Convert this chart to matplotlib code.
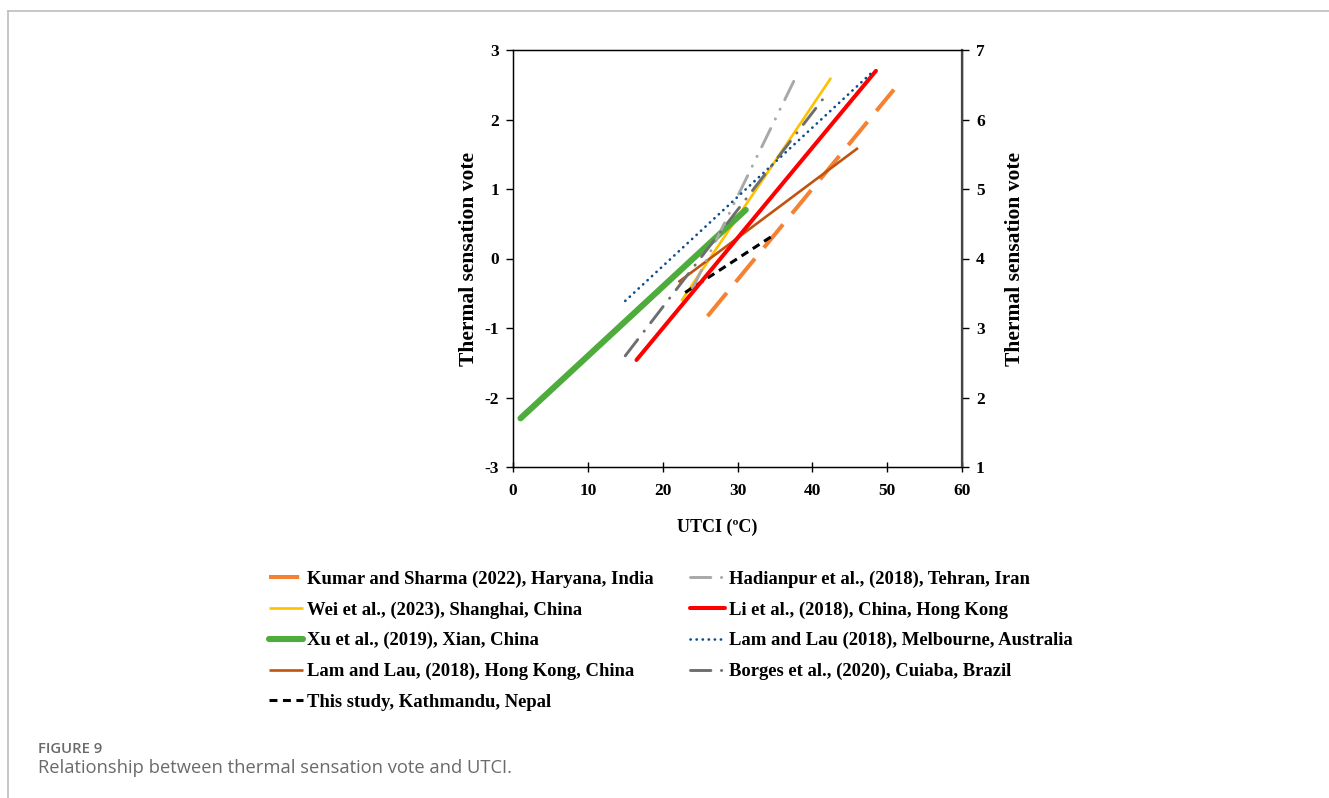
import matplotlib
matplotlib.use("Agg")
import matplotlib.pyplot as plt
from matplotlib.lines import Line2D

plt.rcParams['font.family'] = ['Liberation Serif', 'DejaVu Serif']

# ---- data (endpoints of each regression line) ----
labels = [
    "Kumar and Sharma (2022), Haryana, India",
    "Wei et al., (2023), Shanghai, China",
    "Xu et al., (2019), Xian, China",
    "Lam and Lau, (2018), Hong Kong, China",
    "This study, Kathmandu, Nepal",
    "Hadianpur et al., (2018), Tehran, Iran",
    "Li et al., (2018), China, Hong Kong",
    "Lam and Lau (2018), Melbourne, Australia",
    "Borges et al., (2020), Cuiaba, Brazil",
]
utci_start = [26.0, 22.5, 1.0, 22.1, 23.0, 24.0, 16.5, 15.0, 15.0]
utci_end   = [50.9, 42.5, 31.1, 46.1, 34.6, 37.7, 48.5, 48.2, 42.1]
tsv_start  = [-0.83, -0.61, -2.30, -0.34, -0.49, -0.43, -1.46, -0.61, -1.40]
tsv_end    = [2.43, 2.60, 0.70, 1.59, 0.32, 2.59, 2.70, 2.70, 2.39]

x_ticks = [0, 10, 20, 30, 40, 50, 60]
y_ticks_left = [-3, -2, -1, 0, 1, 2, 3]
y_ticks_right = [1, 2, 3, 4, 5, 6, 7]

# ---- styles ----
colors = ["#F58232", "#FFC000", "#4EAC3C", "#C0540F", "#000000",
          "#A8A8A8", "#FF0000", "#0B4C8A", "#6E6E6E"]
widths = [2.9, 1.9, 4.4, 1.9, 2.2, 2.1, 2.9, 1.9, 2.1]
styles = [(0, (7.5, 3.5)), "-", "-", "-", (0, (2.6, 1.8)),
          (0, (7, 3.6, 0.1, 3.6, 0.1, 3.6)), "-", (0, (0.1, 2.2)),
          (0, (7, 3.6, 0.1, 3.6))]
caps = ["butt", "butt", "round", "butt", "butt", "round", "round", "round", "round"]

fig = plt.figure(figsize=(13.29, 7.98), dpi=100)

# frame lines of the page
fig.add_artist(Line2D([8/1329, 1], [1-11/798, 1-11/798], color="#BDBDBD", lw=1.2))
fig.add_artist(Line2D([8/1329, 8/1329], [0, 1-11/798], color="#BDBDBD", lw=1.2))

ax = fig.add_axes([513/1329, 1-467/798, (962-513)/1329, (467-50)/798])
handles = []
for i in range(len(labels)):
    ln, = ax.plot([utci_start[i], utci_end[i]], [tsv_start[i], tsv_end[i]],
                  color=colors[i], lw=widths[i], linestyle=styles[i],
                  solid_capstyle=caps[i], dash_capstyle=caps[i], label=labels[i])
    handles.append(ln)

ax.set_xlim(0, 60)
ax.set_ylim(-3, 3)
ax.set_xticks(x_ticks)
ax.set_yticks(y_ticks_left)
ax.set_yticklabels([str(v) for v in y_ticks_left])
ax.tick_params(axis='x', direction='inout', length=7, width=1, labelsize=12.5, pad=8)
ax.tick_params(axis='y', direction='out', length=5, width=1, labelsize=12.5, pad=5)
for lab in ax.get_xticklabels() + ax.get_yticklabels():
    lab.set_fontweight('bold')
for s in ax.spines.values():
    s.set_linewidth(1.0)
ax.set_xlabel("UTCI (ºC)", fontsize=13, fontweight='bold')
ax.xaxis.set_label_coords(0.455, -0.125)
ax.set_ylabel("Thermal sensation vote", fontsize=15.5, fontweight='bold', labelpad=4)

ax2 = ax.twinx()
ax2.set_ylim(1, 7)
ax2.set_yticks(y_ticks_right)
ax2.tick_params(axis='y', direction='out', length=5, width=1, labelsize=12.5, pad=5)
for lab in ax2.get_yticklabels():
    lab.set_fontweight('bold')
ax2.spines['right'].set_color("#444444")
ax2.spines['right'].set_linewidth(1.6)
ax2.set_ylabel("Thermal sensation vote", fontsize=15.5, fontweight='bold', labelpad=15)

leg = fig.legend(handles=handles, loc='upper left', bbox_to_anchor=(252/1329, 1-554/798),
                 ncol=2, frameon=False, prop={'family': 'Liberation Serif', 'weight': 'bold', 'size': 13.4},
                 handlelength=1.85, handletextpad=0.22, columnspacing=1.95, labelspacing=0.72)

fig.text(38/1329, 1-749/798, "FIGURE 9", fontsize=10.7, color="#6A6A6A", family="Open Sans",
         fontweight='semibold', va='center', ha='left')
fig.text(38/1329, 1-768/798, "Relationship between thermal sensation vote and UTCI.", fontsize=13.2,
         color="#6A6A6A", family="Open Sans", va='center', ha='left')

fig.savefig("out.png", dpi=100)
